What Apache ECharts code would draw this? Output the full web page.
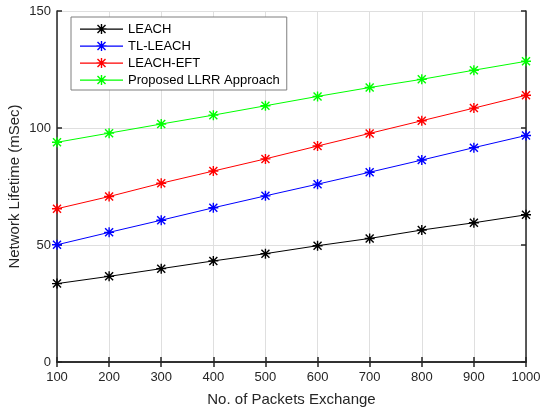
<!DOCTYPE html>
<html><head><meta charset="utf-8">
<script src="https://cdn.jsdelivr.net/npm/echarts@6/dist/echarts.min.js"></script>
<style>html,body{margin:0;padding:0;background:#fff}#c{width:541px;height:411px}</style>
</head><body><div id="c"></div>
<script>
const packets = [100,200,300,400,500,600,700,800,900,1000];
const seriesNames = ['LEACH','TL-LEACH','LEACH-EFT','Proposed LLRR Approach'];
const leach    = [33.5,36.6,39.9,43.2,46.3,49.7,52.8,56.4,59.5,62.9];
const tlLeach  = [50.1,55.4,60.6,65.9,71.0,76.0,81.1,86.3,91.6,96.8];
const leachEft = [65.5,70.7,76.4,81.6,86.8,92.3,97.7,103.1,108.5,114.0];
const llrr     = [93.9,97.8,101.7,105.5,109.5,113.5,117.3,120.8,124.7,128.5];
const colors = ['#000000','#0000ff','#ff0000','#00ff00'];
const yTicks = [0,50,100,150];

const star = 'path://M4.3 0L5.7 0L5.7 10L4.3 10Z M0 4.3L10 4.3L10 5.7L0 5.7Z M1.5 0.5L9.5 8.5L8.5 9.5L0.5 1.5Z M8.5 0.5L9.5 1.5L1.5 9.5L0.5 8.5Z';
const legIcon = 'path://M0 4.5L43 4.5L43 5.7L0 5.7Z M20.8 0L22.2 0L22.2 10L20.8 10Z M16.5 4.3L26.5 4.3L26.5 5.7L16.5 5.7Z M18 0.5L26 8.5L25 9.5L17 1.5Z M25 0.5L26 1.5L18 9.5L17 8.5Z';

const dataSets = [leach, tlLeach, leachEft, llrr];
const font = 'Arial, "Liberation Sans", Helvetica, sans-serif';

const chart = echarts.init(document.getElementById('c'), null, {renderer:'canvas'});
const axisCommon = {
  axisLine:{show:true, lineStyle:{color:'#262626', width:1.5}},
  axisTick:{show:true, inside:true, length:5, lineStyle:{color:'#262626', width:1.5}},
};
chart.setOption({
  animation:false,
  backgroundColor:'#fff',
  grid:{left:57, right:15, top:11, bottom:49, containLabel:false, outerBoundsMode:'none'},
  legend:{
    orient:'vertical', left:71, top:17,
    padding:[5,7,3,9],
    itemWidth:43, itemHeight:10, itemGap:3,
    borderColor:'#7f7f7f', borderWidth:1, backgroundColor:'#fff',
    textStyle:{fontFamily:font, fontSize:13, color:'#000', lineHeight:14},
    data: seriesNames.map((n,i)=>({name:n, icon:legIcon, itemStyle:{color:colors[i]}}))
  },
  xAxis:[{
    type:'value', min:100, max:1000, interval:100, position:'bottom',
    ...axisCommon,
    splitLine:{show:true, lineStyle:{color:'#dfdfdf', width:1}},
    axisLabel:{fontFamily:font, fontSize:13, color:'#262626', margin:9, formatter:v=>String(v)},
    name:'No. of Packets Exchange', nameLocation:'middle', nameGap:30,
    nameTextStyle:{fontFamily:font, fontSize:15, color:'#262626'}
  },{
    type:'value', min:100, max:1000, interval:100, position:'top',
    ...axisCommon, axisLabel:{show:false}, splitLine:{show:false}
  }],
  yAxis:[{
    type:'value', min:0, max:150, interval:50, position:'left',
    ...axisCommon,
    splitLine:{show:true, lineStyle:{color:'#dfdfdf', width:1}},
    axisLabel:{fontFamily:font, fontSize:13, color:'#262626', margin:6,
      formatter:v=>yTicks.includes(v)?String(v):''},
    name:'Network Lifetime (mSec)', nameLocation:'middle', nameGap:35, nameRotate:90,
    nameMoveOverlap:false,
    nameTextStyle:{fontFamily:font, fontSize:15, color:'#262626'}
  },{
    type:'value', min:0, max:150, interval:50, position:'right',
    ...axisCommon, axisLabel:{show:false}, splitLine:{show:false}
  }],
  series: dataSets.map((d,i)=>({
    name:seriesNames[i], type:'line',
    data: packets.map((x,j)=>[x,d[j]]),
    xAxisIndex:0, yAxisIndex:0,
    symbol:star, symbolSize:10, showAllSymbol:true,
    lineStyle:{color:colors[i], width:1},
    itemStyle:{color:colors[i]},
    emphasis:{disabled:true},
    z:2+i
  }))
});
</script></body></html>
